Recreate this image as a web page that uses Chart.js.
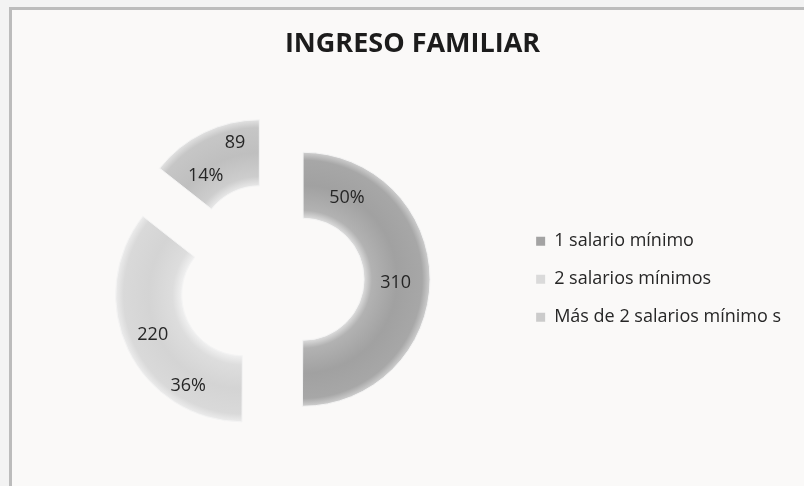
<!DOCTYPE html>
<html>
<head>
<meta charset="utf-8">
<script src="https://cdn.jsdelivr.net/npm/chart.js@4/dist/chart.umd.min.js"></script>
<style>
html,body{margin:0;padding:0;background:#f3f3f3;}
#wrap{width:804px;height:486px;position:relative;}
</style>
</head>
<body>
<div id="wrap"><canvas id="c"></canvas></div>
<script>
// ---- data ----
const categories = ['1 salario mínimo', '2 salarios mínimos', 'Más de 2 salarios mínimo s'];
const values = [310, 220, 89];
const titleText = 'INGRESO FAMILIAR';

// ---- styling ----
const FONT = "'Open Sans', 'DejaVu Sans', sans-serif";
const legendColors = ['#a3a3a3', '#dadada', '#cbcbcb'];
const gradientStops = [
  [[0, '#dcdcdc'], [0.12, '#b2b2b2'], [0.5, '#a1a1a1'], [0.88, '#a7a7a7'], [1, '#cfcfcf']],
  [[0, '#f0f0f0'], [0.14, '#dddddd'], [0.5, '#d4d4d4'], [0.88, '#d9d9d9'], [1, '#ececec']],
  [[0, '#e8e8e8'], [0.14, '#cdcdcd'], [0.5, '#bfbfbf'], [0.88, '#c6c6c6'], [1, '#e2e2e2']]
];
// how far each slice is pulled out of the ring, in pixels
const sliceOffsets = [28, 36, 36];
// label placement inside each slice: f = fraction along the arc, r = fraction across the ring
const labelSpots = [
  {pct: {f: 0.157, r: 0.48}, val: {f: 0.51, r: 0.48}},
  {pct: {f: 0.24, r: 0.68}, val: {f: 0.515, r: 0.565}},
  {pct: {f: 0.286, r: 0.43}, val: {f: 0.746, r: 0.70}}
];

const frame = {
  id: 'frame',
  beforeDraw(chart) {
    const ctx = chart.ctx;
    ctx.save();
    ctx.fillStyle = '#f3f3f3';
    ctx.fillRect(0, 0, chart.width, chart.height);
    ctx.fillStyle = '#faf9f8';
    ctx.fillRect(12, 10, chart.width - 12, chart.height - 10);
    ctx.fillStyle = '#bcbcbc';
    ctx.fillRect(9, 7, chart.width - 9, 3);
    ctx.fillRect(9, 7, 3, chart.height - 7);
    ctx.restore();
  }
};

// draw each arc of the doughnut pulled out along its own mid-angle
const explode = {
  id: 'explode',
  beforeDatasetDraw(chart, args) {
    const ctx = chart.ctx;
    args.meta.data.forEach((arc, i) => {
      const half = (arc.startAngle + arc.endAngle) / 2;
      const d = sliceOffsets[i];
      ctx.save();
      ctx.translate(Math.cos(half) * d, Math.sin(half) * d);
      arc.draw(ctx, chart.chartArea);
      ctx.restore();
    });
    return false;
  }
};

const sliceLabels = {
  id: 'sliceLabels',
  afterDatasetsDraw(chart) {
    const meta = chart.getDatasetMeta(0);
    const total = values.reduce((a, b) => a + b, 0);
    const ctx = chart.ctx;
    ctx.save();
    ctx.font = '18px ' + FONT;
    ctx.fillStyle = '#262626';
    ctx.textAlign = 'center';
    ctx.textBaseline = 'middle';
    meta.data.forEach((arc, i) => {
      const p = arc.getProps(['x', 'y', 'startAngle', 'endAngle', 'innerRadius', 'outerRadius'], true);
      const half = (p.startAngle + p.endAngle) / 2;
      const cx = p.x + Math.cos(half) * sliceOffsets[i];
      const cy = p.y + Math.sin(half) * sliceOffsets[i];
      const place = (spec, text) => {
        const a = p.startAngle + spec.f * (p.endAngle - p.startAngle);
        const r = p.innerRadius + spec.r * (p.outerRadius - p.innerRadius);
        ctx.fillText(text, cx + Math.cos(a) * r, cy + Math.sin(a) * r);
      };
      place(labelSpots[i].pct, Math.round(values[i] / total * 100) + '%');
      place(labelSpots[i].val, String(values[i]));
    });
    ctx.restore();
  }
};

new Chart(document.getElementById('c'), {
  type: 'doughnut',
  data: {
    labels: categories,
    datasets: [{
      data: values,
      borderWidth: 1,
      borderColor: '#f4f4f4',
      backgroundColor: (context) => {
        const chart = context.chart;
        const area = chart.chartArea;
        const i = context.dataIndex;
        if (!area || context.type !== 'data') return legendColors[i];
        const ctrl = chart.getDatasetMeta(0).controller;
        const inner = ctrl.innerRadius, outer = ctrl.outerRadius;
        if (!outer) return legendColors[i];
        const cx = (area.left + area.right) / 2 + (ctrl.offsetX || 0);
        const cy = (area.top + area.bottom) / 2 + (ctrl.offsetY || 0);
        const g = chart.ctx.createRadialGradient(cx, cy, inner, cx, cy, outer);
        gradientStops[i].forEach(s => g.addColorStop(s[0], s[1]));
        return g;
      }
    }]
  },
  options: {
    responsive: true,
    maintainAspectRatio: false,
    animation: false,
    radius: 127,
    cutout: '48%',
    layout: {padding: {left: 34, right: 13, top: 10, bottom: 20}},
    plugins: {
      title: {
        display: true,
        text: titleText,
        color: '#1c1c1c',
        font: {family: FONT, size: 27, weight: 'bold'},
        padding: {top: 18, bottom: 32}
      },
      legend: {
        position: 'right',
        align: 'center',
        fullSize: false,
        labels: {
          boxWidth: 9,
          boxHeight: 9,
          padding: 20,
          color: '#262626',
          font: {family: FONT, size: 18},
          generateLabels: (chart) => categories.map((c, i) => ({
            text: c,
            fillStyle: legendColors[i],
            strokeStyle: legendColors[i],
            lineWidth: 0,
            fontColor: '#262626',
            index: i,
            hidden: false
          }))
        }
      },
      tooltip: {enabled: false}
    }
  },
  plugins: [frame, explode, sliceLabels]
});
</script>
</body>
</html>
